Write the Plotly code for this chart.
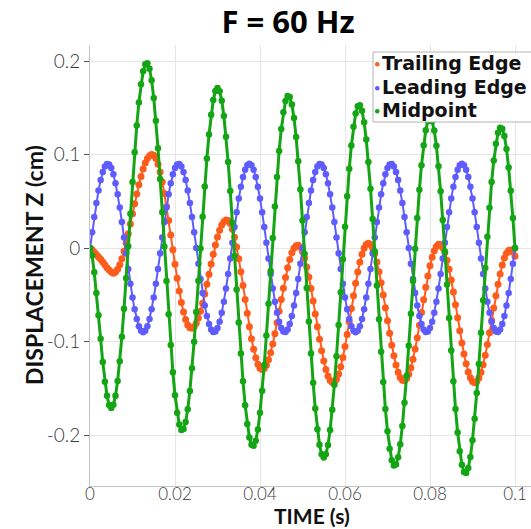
import plotly.graph_objects as go

# Sampling step of the probes (s); 201 samples from 0 to 0.1 s
DT = 0.0005
TIME_S = [round(DT * i, 4) for i in range(201)]

TRAILING_EDGE = [
    0.0, -0.002, -0.0045, -0.007, -0.0095, -0.012, -0.015, -0.018, -0.021, -0.0235,
    -0.0258, -0.027, -0.0257, -0.0226, -0.0178, -0.0114, -0.0036, 0.0054, 0.0152, 0.0257,
    0.0365, 0.0473, 0.0578, 0.0676, 0.0766, 0.0844, 0.0908, 0.0956, 0.0987, 0.1,
    0.0991, 0.0957, 0.0897, 0.0812, 0.0707, 0.0583, 0.0444, 0.0295, 0.0139, -0.0019,
    -0.0175, -0.0323, -0.046, -0.0582, -0.0685, -0.0766, -0.0823, -0.0854, -0.0859, -0.0842,
    -0.0805, -0.0749, -0.0677, -0.0591, -0.0493, -0.0389, -0.028, -0.0171, -0.0067, 0.0031,
    0.0117, 0.0189, 0.0245, 0.0282, 0.0299, 0.0294, 0.0261, 0.0201, 0.0116, 0.001,
    -0.0115, -0.0253, -0.04, -0.055, -0.0699, -0.0841, -0.097, -0.1083, -0.1175, -0.1244,
    -0.1286, -0.13, -0.1288, -0.1253, -0.1196, -0.112, -0.1026, -0.0918, -0.08, -0.0677,
    -0.0552, -0.043, -0.0315, -0.0211, -0.0123, -0.0052, -0.0003, 0.0025, 0.0029, 0.0007,
    -0.004, -0.011, -0.0202, -0.0311, -0.0434, -0.0567, -0.0705, -0.0843, -0.0976, -0.1099,
    -0.1208, -0.13, -0.137, -0.1417, -0.1439, -0.1434, -0.1404, -0.1348, -0.1269, -0.117,
    -0.1054, -0.0925, -0.0788, -0.0648, -0.051, -0.0378, -0.0257, -0.0152, -0.0066, -0.0002,
    0.0037, 0.005, 0.0037, -0.0002, -0.0064, -0.0149, -0.0253, -0.0372, -0.0502, -0.0639,
    -0.0777, -0.0912, -0.1039, -0.1153, -0.1251, -0.1329, -0.1384, -0.1414, -0.1419, -0.1397,
    -0.1351, -0.1281, -0.119, -0.1081, -0.0959, -0.0827, -0.069, -0.0553, -0.0421, -0.0299,
    -0.019, -0.0099, -0.0029, 0.0017, 0.0039, 0.0034, 0.0004, -0.0052, -0.013, -0.0228,
    -0.0343, -0.0471, -0.0607, -0.0746, -0.0884, -0.1015, -0.1135, -0.1239, -0.1325, -0.1388,
    -0.1427, -0.144, -0.1427, -0.139, -0.1329, -0.1248, -0.1147, -0.1032, -0.0907, -0.0775,
    -0.0641, -0.0511, -0.0388, -0.0277, -0.0183, -0.0108, -0.0055, -0.0026, -0.0021, -0.0042,
    -0.0088,
]

LEADING_EDGE = [
    0.0, 0.0169, 0.0331, 0.0482, 0.0616, 0.0728, 0.0814, 0.0872, 0.0898, 0.0893,
    0.0856, 0.0789, 0.0693, 0.0574, 0.0434, 0.0278, 0.0113, -0.0057, -0.0224, -0.0383,
    -0.0529, -0.0656, -0.076, -0.0837, -0.0884, -0.09, -0.0884, -0.0837, -0.076, -0.0656,
    -0.0529, -0.0383, -0.0224, -0.0057, 0.0113, 0.0278, 0.0434, 0.0574, 0.0693, 0.0789,
    0.0856, 0.0893, 0.0898, 0.0872, 0.0814, 0.0728, 0.0616, 0.0482, 0.0331, 0.0169,
    0.0, -0.0169, -0.0331, -0.0482, -0.0616, -0.0728, -0.0814, -0.0872, -0.0898, -0.0893,
    -0.0856, -0.0789, -0.0693, -0.0574, -0.0434, -0.0278, -0.0113, 0.0057, 0.0224, 0.0383,
    0.0529, 0.0656, 0.076, 0.0837, 0.0884, 0.09, 0.0884, 0.0837, 0.076, 0.0656,
    0.0529, 0.0383, 0.0224, 0.0057, -0.0113, -0.0278, -0.0434, -0.0574, -0.0693, -0.0789,
    -0.0856, -0.0893, -0.0898, -0.0872, -0.0814, -0.0728, -0.0616, -0.0482, -0.0331, -0.0169,
    0.0, 0.0169, 0.0331, 0.0482, 0.0616, 0.0728, 0.0814, 0.0872, 0.0898, 0.0893,
    0.0856, 0.0789, 0.0693, 0.0574, 0.0434, 0.0278, 0.0113, -0.0057, -0.0224, -0.0383,
    -0.0529, -0.0656, -0.076, -0.0837, -0.0884, -0.09, -0.0884, -0.0837, -0.076, -0.0656,
    -0.0529, -0.0383, -0.0224, -0.0057, 0.0113, 0.0278, 0.0434, 0.0574, 0.0693, 0.0789,
    0.0856, 0.0893, 0.0898, 0.0872, 0.0814, 0.0728, 0.0616, 0.0482, 0.0331, 0.0169,
    0.0, -0.0169, -0.0331, -0.0482, -0.0616, -0.0728, -0.0814, -0.0872, -0.0898, -0.0893,
    -0.0856, -0.0789, -0.0693, -0.0574, -0.0434, -0.0278, -0.0113, 0.0057, 0.0224, 0.0383,
    0.0529, 0.0656, 0.076, 0.0837, 0.0884, 0.09, 0.0884, 0.0837, 0.076, 0.0656,
    0.0529, 0.0383, 0.0224, 0.0057, -0.0113, -0.0278, -0.0434, -0.0574, -0.0693, -0.0789,
    -0.0856, -0.0893, -0.0898, -0.0872, -0.0814, -0.0728, -0.0616, -0.0482, -0.0331, -0.0169,
    0.0,
]

MIDPOINT = [
    0.0, -0.008, -0.026, -0.048, -0.072, -0.097, -0.122, -0.143, -0.158, -0.168,
    -0.171, -0.1677, -0.158, -0.1423, -0.121, -0.095, -0.0651, -0.0324, 0.0019, 0.0366,
    0.0705, 0.1024, 0.1311, 0.1557, 0.1752, 0.189, 0.1965, 0.1976, 0.1918, 0.1793,
    0.1605, 0.136, 0.1068, 0.0738, 0.0383, 0.0015, -0.0353, -0.0708, -0.1038, -0.133,
    -0.1575, -0.1763, -0.1888, -0.1946, -0.1936, -0.1861, -0.1724, -0.153, -0.1286, -0.1002,
    -0.0685, -0.0349, -0.0005, 0.0335, 0.0659, 0.0956, 0.1214, 0.1425, 0.1582, 0.1678,
    0.171, 0.1676, 0.1576, 0.1412, 0.1191, 0.0921, 0.061, 0.0271, -0.0085, -0.0445,
    -0.0797, -0.1128, -0.1426, -0.1681, -0.1883, -0.2026, -0.2105, -0.2116, -0.2061, -0.1942,
    -0.1762, -0.1528, -0.125, -0.0935, -0.0596, -0.0245, 0.0106, 0.0445, 0.076, 0.1038,
    0.1272, 0.1452, 0.1571, 0.1626, 0.1615, 0.1535, 0.1391, 0.1186, 0.0928, 0.0627,
    0.0293, -0.0063, -0.0427, -0.0786, -0.1129, -0.1442, -0.1716, -0.1939, -0.2104, -0.2206,
    -0.224, -0.2207, -0.2108, -0.1947, -0.1729, -0.1463, -0.1158, -0.0824, -0.0473, -0.0119,
    0.0227, 0.0553, 0.0847, 0.1097, 0.1297, 0.1438, 0.1515, 0.1526, 0.1469, 0.1346,
    0.1161, 0.0921, 0.0634, 0.031, -0.0038, -0.04, -0.0762, -0.111, -0.1434, -0.1721,
    -0.1961, -0.2146, -0.2269, -0.2326, -0.2315, -0.2239, -0.21, -0.1903, -0.1656, -0.1366,
    -0.1045, -0.0703, -0.0353, -0.0007, 0.0322, 0.0623, 0.0886, 0.11, 0.1259, 0.1357,
    0.139, 0.1356, 0.1257, 0.1094, 0.0875, 0.0607, 0.0299, -0.0037, -0.0391, -0.0748,
    -0.1097, -0.1425, -0.1721, -0.1974, -0.2175, -0.2317, -0.2395, -0.2406, -0.2352, -0.2234,
    -0.2057, -0.1826, -0.1551, -0.1241, -0.0907, -0.056, -0.0213, 0.0121, 0.0431, 0.0706,
    0.0937, 0.1114, 0.1232, 0.1286, 0.1275, 0.1199, 0.1059, 0.0861, 0.0612, 0.0321,
    -0.0002,
]

SERIES_NAMES = ["Trailing Edge", "Leading Edge", "Midpoint"]
X_TICKS = [0, 0.02, 0.04, 0.06, 0.08, 0.1]
X_TICK_TEXT = ["0", "0.02", "0.04", "0.06", "0.08", "0.1"]
Y_TICKS = [-0.2, -0.1, 0, 0.1, 0.2]
Y_TICK_TEXT = ["-0.2", "-0.1", "0", "0.1", "0.2"]

COLORS = ["#ff5c1c", "#5f5cff", "#14a514"]
LINE_W = [2, 2, 3]
MARK_SZ = [7, 6.5, 6.5]

W, H = 531, 529
ML, MR, MT, MB = 90, 0, 45, 43
PW, PH = W - ML - MR, H - MT - MB
PX_PER_S = 4250.0      # horizontal scale of the plot area
PX_PER_CM = 935.0      # vertical scale of the plot area
ZERO_PX = 248          # pixel row of y = 0

fig = go.Figure()
for name, ys, c, lw, ms in zip(SERIES_NAMES, [TRAILING_EDGE, LEADING_EDGE, MIDPOINT],
                               COLORS, LINE_W, MARK_SZ):
    fig.add_trace(go.Scatter(
        x=TIME_S, y=ys, name=name, mode="lines+markers",
        line=dict(color=c, width=lw),
        marker=dict(color=c, size=ms),
        showlegend=False,
    ))


def px_x(px):
    return (px - ML) / PW


def px_y(py):
    return (H - MB - py) / PH


# Legend drawn as a boxed list of coloured dots and labels
shapes = [dict(type="rect", xref="paper", yref="paper",
               x0=px_x(373), x1=px_x(545), y0=px_y(122), y1=px_y(52),
               line=dict(color="#b4b4b4", width=1), fillcolor="white", layer="above")]
annotations = []
row_y = [62, 86, 109]
for name, c, ry in zip(SERIES_NAMES, COLORS, row_y):
    shapes.append(dict(type="circle", xref="paper", yref="paper",
                       x0=px_x(375), x1=px_x(379.5), y0=px_y(ry + 4.5), y1=px_y(ry),
                       line=dict(width=0), fillcolor=c, layer="above"))
    annotations.append(dict(xref="paper", yref="paper", x=px_x(381), y=px_y(ry + 1),
                            xanchor="left", yanchor="middle", showarrow=False, text=name,
                            borderpad=0,
                            font=dict(family="DejaVu Sans", size=19, color="#111",
                                      weight="bold")))

annotations.append(dict(xref="paper", yref="paper", x=px_x(312), y=px_y(529),
                        xanchor="center", yanchor="bottom", showarrow=False,
                        text="TIME (s)", borderpad=0,
                        font=dict(family="Lato", size=21, color="#111", weight="bold")))
annotations.append(dict(xref="paper", yref="paper", x=px_x(34), y=px_y(265),
                        xanchor="center", yanchor="middle", showarrow=False, textangle=-90,
                        text="DISPLACEMENT Z (cm)", borderpad=0,
                        font=dict(family="Lato", size=23, color="#111", weight="bold")))

fig.update_layout(
    width=W, height=H,
    margin=dict(l=ML, r=MR, t=MT, b=MB),
    paper_bgcolor="white", plot_bgcolor="white",
    title=dict(text="<b>F = 60 Hz</b>", xref="paper", x=px_x(288), xanchor="center",
               yref="container", y=1 - 22 / H, yanchor="middle",
               font=dict(family="Open Sans", size=31, color="#000")),
    shapes=shapes, annotations=annotations,
    xaxis=dict(range=[0, PW / PX_PER_S], tickvals=X_TICKS, ticktext=X_TICK_TEXT,
               showgrid=True, gridcolor="#e6e6e6", gridwidth=1, zeroline=False,
               showline=True, linecolor="#c4c4c4", linewidth=1, ticks="",
               ticklabelstandoff=-7,
               tickfont=dict(family="Lato", size=17, color="#3a3a3a", weight=300)),
    yaxis=dict(range=[(ZERO_PX - (H - MB)) / PX_PER_CM, (ZERO_PX - MT) / PX_PER_CM],
               tickvals=Y_TICKS, ticktext=Y_TICK_TEXT,
               showgrid=True, gridcolor="#e6e6e6", gridwidth=1, zeroline=False,
               showline=True, linecolor="#c4c4c4", linewidth=1,
               ticks="outside", ticklen=5, tickcolor="#555",
               tickfont=dict(family="Lato", size=19, color="#3a3a3a", weight=300)),
)

fig.write_html("out.html")
